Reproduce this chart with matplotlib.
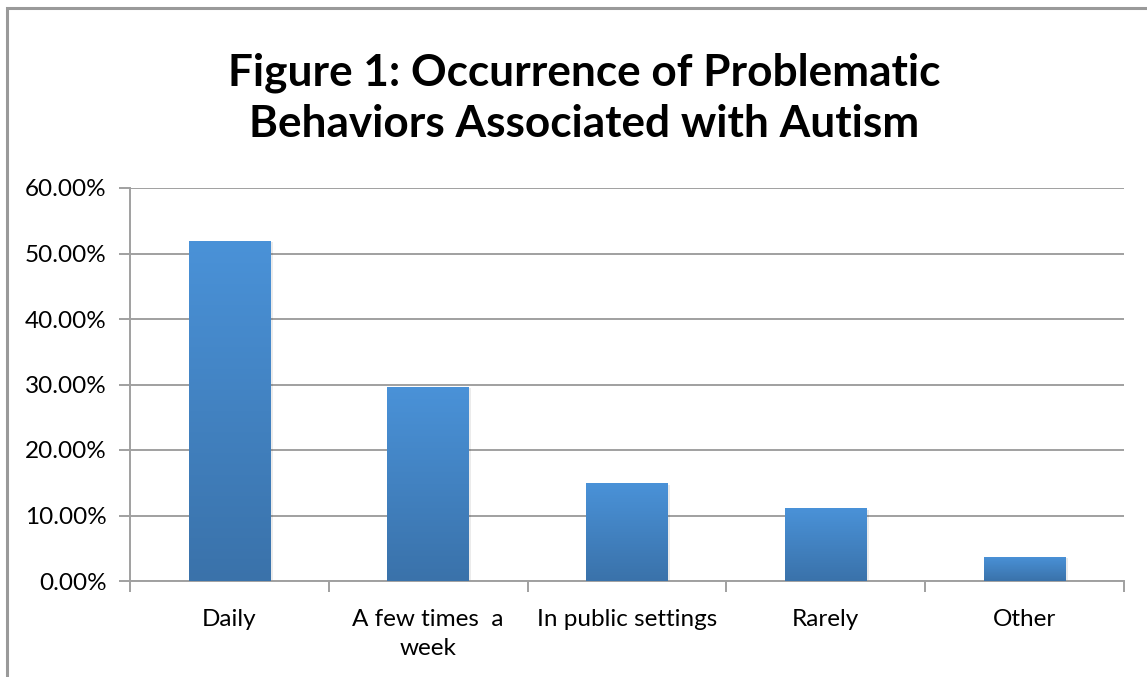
import numpy as np
import matplotlib.pyplot as plt
from matplotlib.patches import Rectangle
from matplotlib.ticker import FuncFormatter
from matplotlib.colors import LinearSegmentedColormap

categories = ["Daily", "A few times  a\nweek", "In public settings", "Rarely", "Other"]
values = [0.519, 0.296, 0.149, 0.111, 0.037]

plt.rcParams['font.family'] = ['Lato', 'DejaVu Sans']

W, H = 1147, 677
fig = plt.figure(figsize=(W / 100, H / 100), dpi=100)
ax = fig.add_axes([130 / W, 1 - 581 / H, (1124 - 130) / W, (581 - 188) / H])

# outer chart border (only left and top are in view)
fig.patches.append(Rectangle((6.5 / W, -0.1), 1.2, 1 - 8 / H + 0.1,
                             transform=fig.transFigure, fill=False,
                             edgecolor='#9a9a9a', linewidth=2.2))

x = np.arange(len(categories))
bars = ax.bar(x, values, width=0.41, color='#4585c8', zorder=3)

# vertical gradient on each bar, lighter at top
grad = np.linspace(0, 1, 256).reshape(-1, 1)
cmap = LinearSegmentedColormap.from_list('bar', ['#3a72aa', '#4a92d8'])
for b in bars:
    x0, y0 = b.get_x(), b.get_y()
    w, h = b.get_width(), b.get_height()
    im = ax.imshow(grad, extent=[x0, x0 + w, y0, y0 + h], origin='lower',
                   cmap=cmap, aspect='auto', zorder=4)
    im.set_clip_path(b)
    # soft shadow
    ax.add_patch(Rectangle((x0 + 0.012, y0), w, h - 0.002, color='#000000',
                           alpha=0.08, zorder=2, linewidth=0))

ax.set_xlim(-0.5, len(categories) - 0.5)
ax.set_ylim(0, 0.6)
ax.set_yticks(np.arange(0, 0.61, 0.1))
ax.yaxis.set_major_formatter(FuncFormatter(lambda v, p: f"{v * 100:.2f}%"))
ax.yaxis.grid(True, color='#a0a0a0', linewidth=1.4, zorder=0)
ax.set_axisbelow(True)

ax.set_xticks(np.arange(-0.5, len(categories), 1.0))
ax.set_xticklabels([])
ax.set_xticks(x, minor=True)
ax.set_xticklabels(categories, minor=True, fontsize=17.5, linespacing=1.5)
ax.tick_params(axis='x', which='minor', length=0, pad=20)
ax.tick_params(axis='x', which='major', length=8, width=1.4, color='#a0a0a0')
ax.tick_params(axis='y', length=8, width=1.4, color='#a0a0a0', labelsize=17.5, pad=9)

for s in ['top', 'right']:
    ax.spines[s].set_visible(False)
for s in ['left', 'bottom']:
    ax.spines[s].set_color('#a0a0a0')
    ax.spines[s].set_linewidth(1.4)

fig.text(584 / W, 1 - 98 / H, "Figure 1: Occurrence of Problematic\nBehaviors Associated with Autism",
         ha='center', va='center', fontsize=31.8, fontweight='bold', linespacing=1.32)

fig.savefig('out.png', dpi=100)
